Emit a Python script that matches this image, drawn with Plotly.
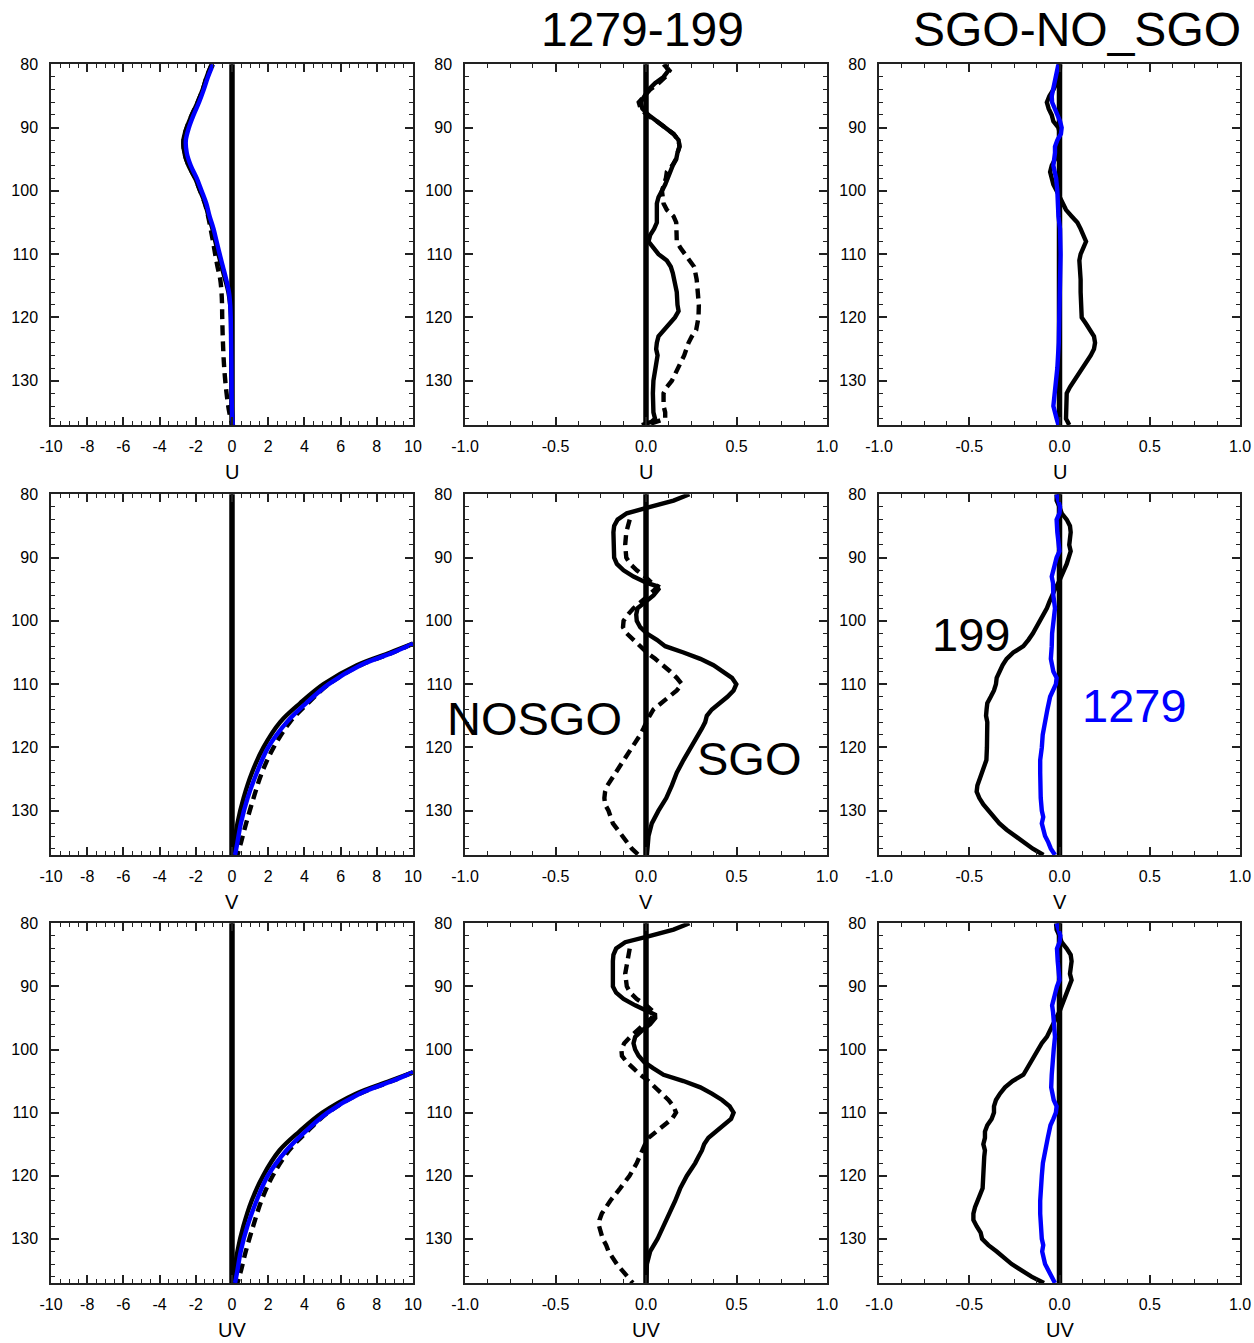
import plotly.graph_objects as go
from plotly.subplots import make_subplots

# ---------------- DATA ----------------
# Column 1 (absolute profiles), x range -10..10
u1_lev = [80, 82, 84, 86, 88, 90, 92, 94, 96, 98, 100, 102, 104, 106, 108, 110, 112, 114, 116, 118, 120, 124, 128, 132, 135, 137]
u1_sgo = [-1.12, -1.4, -1.62, -1.9, -2.22, -2.5, -2.68, -2.63, -2.4, -2.04, -1.76, -1.48, -1.3, -1.08, -0.92, -0.75, -0.57, -0.38, -0.2, -0.1, -0.06, -0.04, -0.02, -0.01, 0.0, 0.05]
u1_nosgo = [-1.12, -1.4, -1.62, -1.9, -2.22, -2.5, -2.68, -2.63, -2.4, -2.04, -1.76, -1.5, -1.32, -1.18, -1.05, -0.93, -0.8, -0.65, -0.58, -0.55, -0.54, -0.5, -0.43, -0.3, -0.15, 0.02]
u1_1279 = [-1.05, -1.33, -1.56, -1.82, -2.12, -2.38, -2.55, -2.5, -2.28, -1.95, -1.68, -1.42, -1.24, -1.02, -0.85, -0.68, -0.5, -0.32, -0.17, -0.1, -0.07, -0.05, -0.03, -0.02, 0.0, 0.05]

v1_lev = [103.6, 105, 107, 110, 113, 116, 120, 124, 128, 132, 135, 137]
v1_sgo = [10.0, 8.75, 6.9, 5.06, 3.77, 2.66, 1.74, 1.1, 0.64, 0.3, 0.14, 0.08]
v1_nosgo = [10.0, 8.9, 7.1, 5.35, 4.2, 3.2, 2.3, 1.65, 1.19, 0.78, 0.5, 0.3]
v1_1279 = [10.0, 8.9, 7.1, 5.34, 4.1, 3.03, 2.0, 1.37, 0.86, 0.49, 0.3, 0.17]

uv1_lev = [103.6, 105, 107, 110, 113, 116, 120, 124, 128, 132, 135, 137]
uv1_sgo = [10.0, 8.7, 6.85, 5.0, 3.72, 2.62, 1.72, 1.08, 0.63, 0.3, 0.14, 0.08]
uv1_nosgo = [10.0, 8.85, 7.05, 5.3, 4.15, 3.15, 2.25, 1.62, 1.17, 0.76, 0.5, 0.3]
uv1_1279 = [10.0, 8.85, 7.05, 5.28, 4.05, 3.0, 1.98, 1.35, 0.85, 0.48, 0.3, 0.17]

# Column 2 (1279-199)
u2_lev_sgo = [80, 81, 82, 83, 84, 85, 86, 87, 88, 89, 90, 91, 92, 93, 94, 95, 96, 97, 98, 99, 100, 101, 102, 103, 104, 105, 106, 107, 108, 109, 110, 111, 112, 113, 114, 116, 118, 119, 120, 121, 122, 123, 124, 125, 126, 127, 128, 130, 132, 134, 135, 136, 136.5, 137]
u2_sgo = [0.106, 0.124, 0.097, 0.05, 0.014, -0.01, -0.03, -0.02, 0.014, 0.06, 0.106, 0.152, 0.18, 0.185, 0.174, 0.167, 0.148, 0.134, 0.124, 0.106, 0.088, 0.069, 0.06, 0.06, 0.064, 0.06, 0.045, 0.023, 0.014, 0.038, 0.069, 0.115, 0.137, 0.148, 0.156, 0.17, 0.174, 0.18, 0.16, 0.13, 0.093, 0.069, 0.06, 0.056, 0.064, 0.058, 0.05, 0.041, 0.038, 0.038, 0.041, 0.05, 0.03, -0.023]
u2_lev_nosgo = [80, 81, 82, 83, 84, 85, 86, 87, 88, 89, 90, 91, 92, 93, 94, 95, 96, 97, 98, 100, 102, 103, 104, 105, 106, 107, 108, 109, 110, 111, 112, 114, 116, 118, 120, 122, 123, 124, 126, 128, 130, 131, 132, 134, 135, 136, 136.5, 137]
u2_nosgo = [0.097, 0.13, 0.106, 0.069, 0.023, -0.005, -0.04, -0.03, 0.005, 0.06, 0.106, 0.152, 0.18, 0.185, 0.174, 0.165, 0.145, 0.115, 0.11, 0.088, 0.097, 0.115, 0.152, 0.167, 0.168, 0.168, 0.17, 0.19, 0.217, 0.244, 0.266, 0.28, 0.287, 0.292, 0.29, 0.277, 0.253, 0.235, 0.211, 0.18, 0.143, 0.115, 0.097, 0.097, 0.106, 0.106, 0.06, 0.005]

v2_lev_sgo = [80, 81, 82, 83, 84, 85, 86, 88, 90, 91, 92, 93, 94, 94.5, 95, 96, 97, 98, 99, 100, 101, 102, 103, 104, 105, 106, 107, 108, 109, 110, 111, 112, 113, 114, 115, 116, 117, 118, 119, 120, 122, 124, 126, 128, 130, 132, 134, 136, 137]
v2_sgo = [0.24, 0.152, 0.023, -0.106, -0.157, -0.176, -0.18, -0.18, -0.176, -0.161, -0.124, -0.069, 0.005, 0.06, 0.069, 0.041, -0.005, -0.047, -0.054, -0.051, -0.032, 0.005, 0.06, 0.106, 0.207, 0.3, 0.373, 0.429, 0.475, 0.499, 0.484, 0.45, 0.41, 0.364, 0.336, 0.327, 0.309, 0.29, 0.267, 0.248, 0.207, 0.17, 0.143, 0.112, 0.069, 0.032, 0.014, 0.005, 0.005]
v2_lev_nosgo = [84, 85, 86, 88, 90, 91, 92, 93, 94, 94.5, 95, 96, 97, 98, 99, 100, 101, 102, 103, 104, 105, 106, 107, 108, 109, 110, 111, 112, 113, 114, 115, 116, 117, 118, 119, 120, 122, 124, 126, 127, 128, 129, 130, 132, 134, 136, 137]
v2_nosgo = [-0.09, -0.1, -0.109, -0.115, -0.109, -0.087, -0.051, -0.005, 0.032, 0.064, 0.05, 0.014, -0.032, -0.069, -0.1, -0.124, -0.127, -0.106, -0.069, -0.032, 0.005, 0.051, 0.097, 0.134, 0.17, 0.198, 0.17, 0.124, 0.078, 0.041, 0.02, 0.005, -0.014, -0.032, -0.054, -0.078, -0.124, -0.17, -0.213, -0.226, -0.23, -0.226, -0.207, -0.183, -0.134, -0.078, -0.041]

uv2_lev_sgo = [80, 81, 82, 83, 84, 85, 86, 88, 90, 91, 92, 93, 94, 94.5, 95, 96, 97, 98, 99, 100, 101, 102, 103, 104, 105, 106, 107, 108, 109, 110, 111, 112, 113, 114, 115, 116, 117, 118, 120, 122, 124, 126, 128, 130, 132, 134, 137]
uv2_sgo = [0.24, 0.152, 0.023, -0.115, -0.165, -0.18, -0.183, -0.183, -0.183, -0.165, -0.124, -0.06, 0.023, 0.05, 0.051, 0.023, -0.023, -0.06, -0.069, -0.06, -0.041, -0.01, 0.041, 0.097, 0.207, 0.3, 0.364, 0.42, 0.462, 0.484, 0.47, 0.43, 0.39, 0.345, 0.321, 0.309, 0.29, 0.272, 0.226, 0.189, 0.161, 0.13, 0.097, 0.064, 0.023, 0.005, 0.001]
uv2_lev_nosgo = [84, 86, 88, 90, 91, 92, 93, 94, 95, 96, 97, 98, 99, 100, 101, 102, 103, 104, 105, 106, 107, 108, 109, 110, 111, 112, 113, 114, 115, 116, 117, 118, 120, 122, 124, 126, 127, 128, 130, 131, 132, 134, 136, 137]
uv2_nosgo = [-0.09, -0.1, -0.115, -0.106, -0.087, -0.051, 0.001, 0.041, 0.032, -0.01, -0.051, -0.087, -0.12, -0.136, -0.133, -0.106, -0.069, -0.032, 0.014, 0.051, 0.088, 0.124, 0.152, 0.166, 0.143, 0.097, 0.051, 0.014, -0.005, -0.023, -0.036, -0.051, -0.091, -0.143, -0.198, -0.244, -0.257, -0.259, -0.239, -0.22, -0.207, -0.161, -0.106, -0.073]

# Column 3 (SGO-NO_SGO)
u3_lev_199 = [80, 82, 84, 85, 86, 87, 88, 89, 90, 91, 92, 94, 95, 96, 97, 98, 99, 100, 101, 102, 103, 104, 105, 106, 107, 108, 109, 110, 111, 112, 114, 116, 118, 119, 120, 121, 122, 123, 124, 125, 126, 127, 128, 129, 130, 131, 132, 133, 134, 135, 136, 136.5, 137]
u3_199 = [0.003, 0.0, -0.034, -0.056, -0.07, -0.06, -0.043, -0.034, -0.006, 0.003, -0.006, -0.016, -0.025, -0.043, -0.052, -0.043, -0.034, -0.016, 0.003, 0.017, 0.036, 0.067, 0.099, 0.117, 0.132, 0.147, 0.132, 0.117, 0.11, 0.113, 0.117, 0.117, 0.117, 0.117, 0.123, 0.147, 0.169, 0.191, 0.197, 0.191, 0.173, 0.15, 0.128, 0.099, 0.077, 0.058, 0.04, 0.04, 0.04, 0.04, 0.036, 0.045, 0.054]
u3_lev_1279 = [80, 82, 84, 85, 86, 87, 88, 89, 90, 91, 92, 93, 94, 96, 98, 100, 104, 106, 110, 116, 120, 124, 128, 132, 134, 136, 137]
u3_1279 = [-0.006, -0.019, -0.034, -0.043, -0.041, -0.025, -0.01, 0.003, 0.012, 0.008, -0.012, -0.025, -0.025, -0.034, -0.019, -0.012, -0.006, 0.003, 0.006, 0.003, 0.0, -0.004, -0.012, -0.025, -0.034, -0.016, -0.006]

v3_lev_199 = [80, 81, 82, 83, 84, 85, 86, 87, 88, 89, 90, 91, 92, 93, 94, 95, 96, 97, 98, 99, 100, 101, 102, 103, 104, 105, 106, 107, 108, 109, 110, 111, 112, 113, 114, 115, 116, 117, 118, 120, 122, 123, 124, 125, 126, 127, 128, 129, 130, 131, 132, 133, 134, 135, 136, 137]
v3_199 = [-0.016, -0.016, 0.0, 0.012, 0.04, 0.058, 0.062, 0.058, 0.054, 0.062, 0.054, 0.04, 0.025, 0.012, -0.006, -0.025, -0.043, -0.056, -0.07, -0.089, -0.107, -0.126, -0.148, -0.172, -0.2, -0.256, -0.293, -0.315, -0.333, -0.348, -0.352, -0.363, -0.381, -0.4, -0.404, -0.407, -0.4, -0.402, -0.402, -0.402, -0.405, -0.418, -0.426, -0.44, -0.455, -0.459, -0.444, -0.422, -0.394, -0.363, -0.333, -0.293, -0.247, -0.2, -0.148, -0.089]
v3_lev_1279 = [80, 82, 83, 84, 86, 88, 89, 90, 92, 93, 94, 96, 98, 100, 102, 104, 106, 108, 109, 110, 111, 112, 114, 116, 118, 120, 122, 124, 126, 128, 130, 131, 132, 134, 135, 136, 137]
v3_1279 = [-0.016, 0.003, 0.0, -0.016, -0.012, -0.006, 0.0, -0.016, -0.034, -0.043, -0.036, -0.034, -0.025, -0.034, -0.041, -0.043, -0.048, -0.034, -0.016, -0.02, -0.034, -0.052, -0.067, -0.08, -0.093, -0.098, -0.107, -0.107, -0.107, -0.104, -0.098, -0.09, -0.098, -0.08, -0.062, -0.048, -0.025]

uv3_lev_199 = [80, 81, 82, 83, 84, 85, 86, 87, 88, 89, 90, 91, 92, 93, 94, 95, 96, 97, 98, 99, 100, 101, 102, 103, 104, 105, 106, 107, 108, 109, 110, 111, 112, 113, 114, 115, 116, 117, 118, 120, 122, 123, 124, 125, 126, 127, 128, 129, 130, 131, 132, 133, 134, 135, 136, 137]
uv3_199 = [-0.019, -0.016, 0.0, 0.012, 0.04, 0.062, 0.067, 0.062, 0.058, 0.067, 0.054, 0.04, 0.025, 0.017, 0.0, -0.019, -0.037, -0.052, -0.07, -0.098, -0.118, -0.137, -0.155, -0.178, -0.2, -0.26, -0.302, -0.33, -0.352, -0.363, -0.363, -0.376, -0.4, -0.413, -0.413, -0.422, -0.413, -0.417, -0.418, -0.418, -0.426, -0.44, -0.455, -0.468, -0.477, -0.477, -0.459, -0.437, -0.429, -0.394, -0.348, -0.307, -0.265, -0.21, -0.155, -0.086]
uv3_lev_1279 = [80, 82, 83, 84, 86, 88, 89, 90, 92, 93, 94, 96, 98, 100, 102, 104, 106, 108, 109, 110, 111, 112, 114, 116, 118, 120, 122, 124, 126, 128, 130, 131, 132, 134, 135, 136, 137]
uv3_1279 = [-0.016, 0.005, 0.0, -0.014, -0.01, -0.006, 0.0, -0.014, -0.032, -0.041, -0.036, -0.032, -0.025, -0.032, -0.04, -0.043, -0.046, -0.032, -0.016, -0.02, -0.034, -0.05, -0.065, -0.08, -0.092, -0.098, -0.105, -0.107, -0.107, -0.104, -0.098, -0.09, -0.096, -0.08, -0.062, -0.048, -0.025]

row_vars = ["U", "V", "UV"]
col_titles = ["", "1279-199", "SGO-NO_SGO"]
y_ticks = [80, 90, 100, 110, 120, 130]
x1_ticks = [-10, -8, -6, -4, -2, 0, 2, 4, 6, 8, 10]
x1_ticktext = ["-10", "-8", "-6", "-4", "-2", "0", "2", "4", "6", "8", "10"]
x23_ticks = [-1.0, -0.5, 0.0, 0.5, 1.0]
x23_ticktext = ["-1.0", "-0.5", "0.0", "0.5", "1.0"]
annot_labels = {"NOSGO": (-0.616, 115.4), "SGO": (0.569, 121.7), "199": (-0.493, 102.2), "1279": (0.413, 113.4)}

# ---------------- FIGURE ----------------
W, H = 1254, 1343
FONT = "Liberation Sans, Arial, Helvetica, sans-serif"
BLUE = "#0000FF"
LW = 4.4
DASH = "10px,6px"

fig = make_subplots(rows=3, cols=3)

col_px = [(51, 413), (465, 827), (879, 1240)]
row_px = [(64.3, 425), (494.3, 855), (923.3, 1283)]


def solid(x, y, color="black", spline=False):
    return go.Scatter(x=x, y=y, mode="lines", showlegend=False, hoverinfo="skip",
                      line=dict(color=color, width=LW, shape="spline" if spline else "linear"))


def dashed(x, y, spline=False):
    return go.Scatter(x=x, y=y, mode="lines", showlegend=False, hoverinfo="skip",
                      line=dict(color="black", width=LW, dash=DASH, shape="spline" if spline else "linear"))


panels = {
    (1, 1): [dashed(u1_nosgo, u1_lev, True), solid(u1_sgo, u1_lev, spline=True), solid(u1_1279, u1_lev, BLUE, True)],
    (2, 1): [dashed(v1_nosgo, v1_lev, True), solid(v1_sgo, v1_lev, spline=True), solid(v1_1279, v1_lev, BLUE, True)],
    (3, 1): [dashed(uv1_nosgo, uv1_lev, True), solid(uv1_sgo, uv1_lev, spline=True), solid(uv1_1279, uv1_lev, BLUE, True)],
    (1, 2): [dashed(u2_nosgo, u2_lev_nosgo), solid(u2_sgo, u2_lev_sgo)],
    (2, 2): [dashed(v2_nosgo, v2_lev_nosgo), solid(v2_sgo, v2_lev_sgo)],
    (3, 2): [dashed(uv2_nosgo, uv2_lev_nosgo), solid(uv2_sgo, uv2_lev_sgo)],
    (1, 3): [solid(u3_199, u3_lev_199), solid(u3_1279, u3_lev_1279, BLUE)],
    (2, 3): [solid(v3_199, v3_lev_199), solid(v3_1279, v3_lev_1279, BLUE)],
    (3, 3): [solid(uv3_199, uv3_lev_199), solid(uv3_1279, uv3_lev_1279, BLUE)],
}
for (r, c), traces in panels.items():
    for t in traces:
        fig.add_trace(t, row=r, col=c)

axis_line = dict(showline=True, linecolor="#222222", linewidth=1.5, mirror="ticks",
                 ticks="inside", ticklen=8, tickwidth=1.5, tickcolor="#222222",
                 showgrid=False, zeroline=False, automargin=False,
                 tickfont=dict(family=FONT, size=16, color="black"))

for r in range(1, 4):
    for c in range(1, 4):
        idx = (r - 1) * 3 + c
        xn = "xaxis" if idx == 1 else f"xaxis{idx}"
        yn = "yaxis" if idx == 1 else f"yaxis{idx}"
        x0, x1 = col_px[c - 1]
        t0, t1 = row_px[r - 1]
        if c == 1:
            xa = dict(range=[-10, 10], tickvals=x1_ticks, ticktext=x1_ticktext,
                      minor=dict(ticks="inside", ticklen=4, dtick=0.5, tick0=-10, tickwidth=1.2, tickcolor="#222222"))
        else:
            xa = dict(range=[-1, 1], tickvals=x23_ticks, ticktext=x23_ticktext,
                      minor=dict(ticks="inside", ticklen=4, dtick=0.125, tick0=-1, tickwidth=1.2, tickcolor="#222222"))
        fig.layout[xn].update(domain=[x0 / W, x1 / W], autorange=False, ticklabelstandoff=6, **xa, **axis_line)
        fig.layout[yn].update(domain=[1 - t1 / H, 1 - t0 / H], range=[137, 80], autorange=False,
                              tickvals=y_ticks, ticklabelstandoff=8,
                              minor=dict(ticks="inside", ticklen=4, dtick=2, tick0=80, tickwidth=1.2, tickcolor="#222222"),
                              **axis_line)
        # zero reference line
        xr = "x" if idx == 1 else f"x{idx}"
        yr = "y" if idx == 1 else f"y{idx}"
        fig.add_shape(type="line", xref=xr, yref=f"{yr} domain", x0=0, x1=0, y0=0, y1=1,
                      line=dict(color="black", width=5.5), layer="below")
        # axis title
        fig.add_annotation(text=row_vars[r - 1], xref="paper", yref="paper",
                           x=(x0 + x1) / 2 / W, y=1 - (t1 + 47) / H, xanchor="center", yanchor="middle",
                           showarrow=False, font=dict(family=FONT, size=20, color="black"))

# column titles
fig.add_annotation(text=col_titles[1], xref="paper", yref="paper", x=642 / W, y=1 - 30 / H,
                   xanchor="center", yanchor="middle", showarrow=False,
                   font=dict(family=FONT, size=48, color="black"))
fig.add_annotation(text=col_titles[2], xref="paper", yref="paper", x=1077 / W, y=1 - 30 / H,
                   xanchor="center", yanchor="middle", showarrow=False,
                   font=dict(family=FONT, size=48, color="black"))

# in-panel labels
for name, (ax, ay), xr, yr, col in [("NOSGO", annot_labels["NOSGO"], "x5", "y5", "black"),
                                    ("SGO", annot_labels["SGO"], "x5", "y5", "black"),
                                    ("199", annot_labels["199"], "x6", "y6", "black"),
                                    ("1279", annot_labels["1279"], "x6", "y6", BLUE)]:
    fig.add_annotation(text=name, xref=xr, yref=yr, x=ax, y=ay, xanchor="center", yanchor="middle",
                       showarrow=False, font=dict(family=FONT, size=47, color=col))

fig.update_layout(template="none", width=W, height=H, margin=dict(l=0, r=0, t=0, b=0, autoexpand=False),
                  paper_bgcolor="white", plot_bgcolor="white", showlegend=False)

fig.write_html("out.html", config={"displayModeBar": False},
               post_script="document.body.style.margin='0';document.body.style.overflow='hidden';")
